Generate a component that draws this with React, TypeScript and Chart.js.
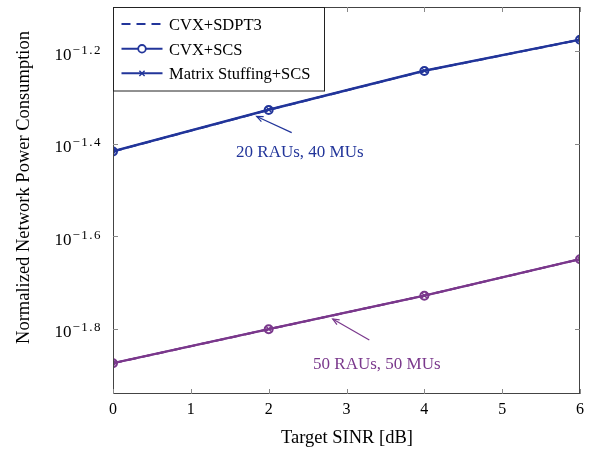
import React, { useEffect, useRef } from "react";
import { Chart, registerables } from "chart.js";

Chart.register(...registerables);

// ---- data ----
const sinrDb = [0, 2, 4, 6];
const xTickValues = [0, 1, 2, 3, 4, 5, 6];
const yTickExponents = [-1.8, -1.6, -1.4, -1.2];

// 20 RAUs, 40 MUs
const g1Sdpt3 = [0.0383, 0.0471, 0.0572, 0.0668];
const g1Scs = [0.0383, 0.0471, 0.0572, 0.0668];
const g1Stuff = [0.0384, 0.0472, 0.0573, 0.0669];
// 50 RAUs, 50 MUs
const g2Sdpt3 = [0.01334, 0.0158, 0.01868, 0.0224];
const g2Scs = [0.01334, 0.0158, 0.01868, 0.0224];
const g2Stuff = [0.01336, 0.01582, 0.0187, 0.02242];

const legendLabels = ["CVX+SDPT3", "CVX+SCS", "Matrix Stuffing+SCS"];
const xTitle = "Target SINR [dB]";
const yTitle = "Normalized Network Power Consumption";

// annotations: text, text position (x, log10 y), arrow tail, arrow head
const annotTexts = ["20 RAUs, 40 MUs", "50 RAUs, 50 MUs"];
const annotTextPos = [[2.4, -1.419], [3.39, -1.8786]];
const annotTail = [[2.296, -1.376], [3.293, -1.8245]];
const annotHead = [[1.846, -1.341], [2.823, -1.779]];

const yMinExp = -1.9413;
const yMaxExp = -1.1043;

const BLUE = "#22359a";
const PURPLE = "#7a388c";
const annotColors = [BLUE, PURPLE];
const SERIF = "'Liberation Serif', 'Times New Roman', serif";

function seriesSet(vals: number[][], color: string) {
  return [
    {
      label: legendLabels[0],
      data: sinrDb.map((x, i) => ({ x, y: vals[0][i] })),
      borderColor: color,
      borderWidth: 2,
      borderDash: [9, 6],
      pointRadius: 0,
    },
    {
      label: legendLabels[1],
      data: sinrDb.map((x, i) => ({ x, y: vals[1][i] })),
      borderColor: color,
      borderWidth: 2,
      pointStyle: "circle",
      pointRadius: 4,
      pointBorderWidth: 2,
      pointBorderColor: color,
      pointBackgroundColor: "rgba(0,0,0,0)",
    },
    {
      label: legendLabels[2],
      data: sinrDb.map((x, i) => ({ x, y: vals[2][i] })),
      borderColor: color,
      borderWidth: 2,
      pointStyle: "crossRot",
      pointRadius: 3.5,
      pointBorderWidth: 1.4,
      pointBorderColor: color,
    },
  ];
}

const decorPlugin = {
  id: "decor",
  afterDraw(chart: any) {
    const ctx = chart.ctx as CanvasRenderingContext2D;
    const { left, right, top, bottom } = chart.chartArea;
    const xs = chart.scales.x;
    const ys = chart.scales.y;
    ctx.save();

    // frame
    ctx.strokeStyle = "#444";
    ctx.lineWidth = 1;
    ctx.strokeRect(left + 0.5, top + 0.5, right - left - 1, bottom - top - 1);

    // inward ticks
    ctx.strokeStyle = "#888";
    const tl = 5;
    xTickValues.forEach((v) => {
      const px = Math.round(xs.getPixelForValue(v)) + 0.5;
      ctx.beginPath();
      ctx.moveTo(px, bottom);
      ctx.lineTo(px, bottom - tl);
      ctx.moveTo(px, top);
      ctx.lineTo(px, top + tl);
      ctx.stroke();
    });
    yTickExponents.forEach((e) => {
      const py = Math.round(ys.getPixelForValue(Math.pow(10, e))) + 0.5;
      ctx.beginPath();
      ctx.moveTo(left, py);
      ctx.lineTo(left + tl, py);
      ctx.moveTo(right, py);
      ctx.lineTo(right - tl, py);
      ctx.stroke();
    });

    // x tick labels
    ctx.fillStyle = "#000";
    ctx.font = `16px ${SERIF}`;
    ctx.textAlign = "center";
    ctx.textBaseline = "alphabetic";
    xTickValues.forEach((v) => {
      ctx.fillText(String(v), xs.getPixelForValue(v), bottom + 20);
    });

    // y tick labels 10^{e}
    yTickExponents.forEach((e) => {
      const py = ys.getPixelForValue(Math.pow(10, e));
      const sup = "\u2212" + Math.abs(e).toFixed(1);
      ctx.font = `17px ${SERIF}`;
      (ctx as any).letterSpacing = "0px";
      const w10 = ctx.measureText("10").width;
      ctx.font = `13px ${SERIF}`;
      (ctx as any).letterSpacing = "1.5px";
      const wSup = ctx.measureText(sup).width;
      const x0 = 102 - w10 - wSup - 1;
      ctx.textAlign = "left";
      (ctx as any).letterSpacing = "0px";
      ctx.font = `17px ${SERIF}`;
      ctx.fillText("10", x0, py + 8.5);
      ctx.font = `13px ${SERIF}`;
      (ctx as any).letterSpacing = "1.5px";
      ctx.fillText(sup, x0 + w10 + 1, py + 2.5);
      (ctx as any).letterSpacing = "0px";
    });

    // axis titles
    ctx.font = `18.5px ${SERIF}`;
    ctx.textAlign = "center";
    ctx.fillText(xTitle, (left + right) / 2 + 0.5, 443);
    ctx.save();
    ctx.translate(28.5, 187.5);
    ctx.rotate(-Math.PI / 2);
    ctx.fillText(yTitle, 0, 0);
    ctx.restore();

    // annotations
    annotTexts.forEach((t, i) => {
      const c = annotColors[i];
      const tx = xs.getPixelForValue(annotTextPos[i][0]);
      const ty = ys.getPixelForValue(Math.pow(10, annotTextPos[i][1]));
      const ax = xs.getPixelForValue(annotTail[i][0]);
      const ay = ys.getPixelForValue(Math.pow(10, annotTail[i][1]));
      const hx = xs.getPixelForValue(annotHead[i][0]);
      const hy = ys.getPixelForValue(Math.pow(10, annotHead[i][1]));
      ctx.strokeStyle = c;
      ctx.lineWidth = 1.2;
      ctx.beginPath();
      ctx.moveTo(ax, ay);
      ctx.lineTo(hx, hy);
      ctx.stroke();
      const ang = Math.atan2(hy - ay, hx - ax);
      const hl = 7;
      ctx.beginPath();
      ctx.moveTo(hx - hl * Math.cos(ang - 0.4), hy - hl * Math.sin(ang - 0.4));
      ctx.lineTo(hx, hy);
      ctx.lineTo(hx - hl * Math.cos(ang + 0.4), hy - hl * Math.sin(ang + 0.4));
      ctx.stroke();
      ctx.fillStyle = c;
      ctx.font = `17px ${SERIF}`;
      ctx.textAlign = "center";
      ctx.textBaseline = "middle";
      ctx.fillText(t, tx, ty);
    });

    // legend
    const lx = left, ly = top;
    const lw = 211, lh = 83.5;
    ctx.fillStyle = "#fff";
    ctx.fillRect(lx, ly, lw, lh);
    ctx.strokeStyle = "#222";
    ctx.lineWidth = 1;
    ctx.strokeRect(lx + 0.5, ly + 0.5, lw, lh);
    const rows = [ly + 17, ly + 41.8, ly + 66.3];
    const sx0 = lx + 8.5, sx1 = lx + 49.5;
    rows.forEach((ry, i) => {
      ctx.strokeStyle = BLUE;
      ctx.lineWidth = 2;
      ctx.setLineDash(i === 0 ? [9, 6] : []);
      ctx.beginPath();
      ctx.moveTo(sx0, ry);
      ctx.lineTo(sx1, ry);
      ctx.stroke();
      ctx.setLineDash([]);
      const mx = (sx0 + sx1) / 2;
      if (i === 1) {
        ctx.lineWidth = 1.8;
        ctx.fillStyle = "#fff";
        ctx.beginPath();
        ctx.arc(mx, ry, 3.8, 0, Math.PI * 2);
        ctx.fill();
        ctx.stroke();
      } else if (i === 2) {
        ctx.lineWidth = 1.4;
        const r = 2.6;
        ctx.beginPath();
        ctx.moveTo(mx - r, ry - r);
        ctx.lineTo(mx + r, ry + r);
        ctx.moveTo(mx + r, ry - r);
        ctx.lineTo(mx - r, ry + r);
        ctx.stroke();
      }
      ctx.fillStyle = "#000";
      ctx.font = `16.5px ${SERIF}`;
      ctx.textAlign = "left";
      ctx.textBaseline = "alphabetic";
      ctx.fillText(legendLabels[i], lx + 56, ry + 6);
    });

    ctx.restore();
  },
};

export default function App() {
  const ref = useRef<HTMLCanvasElement | null>(null);
  useEffect(() => {
    if (!ref.current) return;
    const chart = new Chart(ref.current, {
      type: "line",
      data: {
        datasets: [
          ...seriesSet([g1Sdpt3, g1Scs, g1Stuff], BLUE),
          ...seriesSet([g2Sdpt3, g2Scs, g2Stuff], PURPLE),
        ] as any,
      },
      options: {
        animation: false,
        responsive: false,
        devicePixelRatio: 1,
        layout: { padding: { left: 0, top: 7, right: 10, bottom: 0 } },
        plugins: { legend: { display: false }, tooltip: { enabled: false } },
        elements: { line: { tension: 0 } },
        scales: {
          x: {
            type: "linear",
            min: 0,
            max: 6,
            ticks: { display: false, stepSize: 1 },
            grid: { display: false, drawTicks: false },
            border: { display: false },
            afterFit: (s: any) => {
              s.height = 55;
            },
          },
          y: {
            type: "logarithmic",
            min: Math.pow(10, yMinExp),
            max: Math.pow(10, yMaxExp),
            ticks: { display: false },
            grid: { display: false, drawTicks: false },
            border: { display: false },
            afterBuildTicks: (s: any) => {
              s.ticks = yTickExponents.map((e) => ({ value: Math.pow(10, e) }));
            },
            afterFit: (s: any) => {
              s.width = 113;
            },
          },
        },
      },
      plugins: [decorPlugin],
    });
    return () => chart.destroy();
  }, []);
  return (
    <div style={{ position: "fixed", left: 0, top: 0, width: 590, height: 449, background: "#fff" }}>
      <canvas ref={ref} width={590} height={449} />
    </div>
  );
}
